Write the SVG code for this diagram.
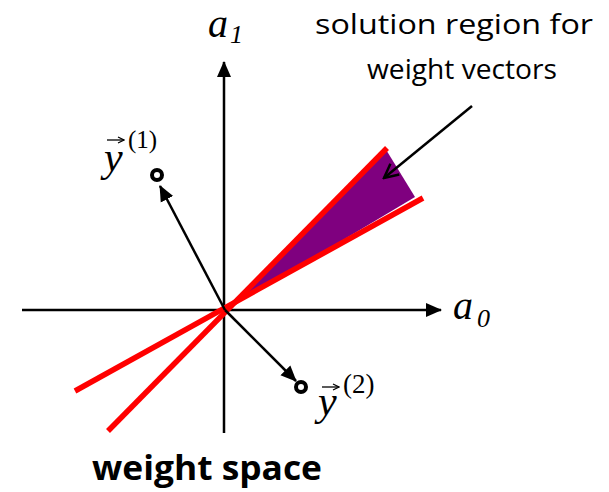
<svg xmlns="http://www.w3.org/2000/svg" width="609" height="492" viewBox="0 0 609 492">
<defs>
<marker id="bigfill" markerWidth="16" markerHeight="16" refX="15" refY="8" orient="auto" markerUnits="userSpaceOnUse" viewBox="0 0 16 16">
<path d="M0,1 L16,8 L0,15 z" fill="#000"/>
</marker>
<marker id="open" markerWidth="18" markerHeight="18" refX="16" refY="9" orient="auto" markerUnits="userSpaceOnUse" viewBox="0 0 18 18">
<path d="M2,2 L16,9 L2,16" fill="none" stroke="#000" stroke-width="2.5"/>
</marker>
<marker id="acc" markerWidth="8" markerHeight="8" refX="7" refY="4" orient="auto" markerUnits="userSpaceOnUse" viewBox="0 0 8 8">
<path d="M1,1 L7,4 L1,7" fill="none" stroke="#000" stroke-width="1.2"/>
</marker>
</defs>
<style>
.ax{stroke:#000;stroke-width:2.5;fill:none}
.vec{stroke:#000;stroke-width:2.5;fill:none}
.red{stroke:#ff0000;stroke-width:5.5;fill:none}
.accent{stroke:#000;stroke-width:1.3;fill:none}
.math{font-family:"Liberation Serif","Times New Roman",serif;fill:#000}
.it{font-style:italic}
.lab{font-family:"Open Sans","Liberation Sans",sans-serif;fill:#000}
.dot{fill:none;stroke:#000;stroke-width:4}
</style>
<rect width="609" height="492" fill="#fff"/>
<g id="region">
<polygon points="226,310 385,148 415,197" fill="#7f007f"/>
</g>
<g id="connectors">
<line class="ax" x1="22" y1="310" x2="441" y2="310" marker-end="url(#bigfill)"/>
<line class="ax" x1="224" y1="433" x2="224" y2="62" marker-end="url(#bigfill)"/>
<line class="red" x1="108" y1="431" x2="387" y2="148"/>
<line class="red" x1="75" y1="391" x2="423" y2="198"/>
<line class="vec" x1="225" y1="310" x2="160" y2="186" marker-end="url(#bigfill)"/>
<line class="vec" x1="225" y1="310" x2="296" y2="381" marker-end="url(#bigfill)"/>
<line class="vec" x1="472" y1="106" x2="384" y2="178" marker-end="url(#open)"/>
</g>
<g id="y1">
<circle class="dot" cx="157" cy="175" r="5"/>
<line class="accent" x1="107" y1="140" x2="124" y2="140" marker-end="url(#acc)"/>
<text class="math it" x="104" y="171" font-size="42">y</text>
<text class="math" x="128" y="148" font-size="25">(1)</text>
</g>
<g id="y2">
<circle class="dot" cx="301" cy="387" r="5"/>
<line class="accent" x1="322" y1="387" x2="339" y2="387" marker-end="url(#acc)"/>
<text class="math it" x="318" y="415" font-size="42">y</text>
<text class="math" x="343" y="393" font-size="27">(2)</text>
</g>
<g id="a1">
<text class="math it" x="208" y="37" font-size="40">a</text>
<text class="math it" x="230" y="43" font-size="26">1</text>
</g>
<g id="a0">
<text class="math it" x="453" y="319" font-size="40">a</text>
<text class="math it" x="477" y="327" font-size="26">0</text>
</g>
<g id="solution-label">
<text class="lab" x="315" y="34" font-size="28" textLength="278" lengthAdjust="spacingAndGlyphs">solution  region for</text>
<text class="lab" x="367" y="79" font-size="28" textLength="190" lengthAdjust="spacingAndGlyphs">weight vectors</text>
</g>
<g id="weight-space">
<text class="lab" x="92" y="480" font-size="34" font-weight="bold" textLength="230" lengthAdjust="spacingAndGlyphs">weight space</text>
</g>
</svg>
